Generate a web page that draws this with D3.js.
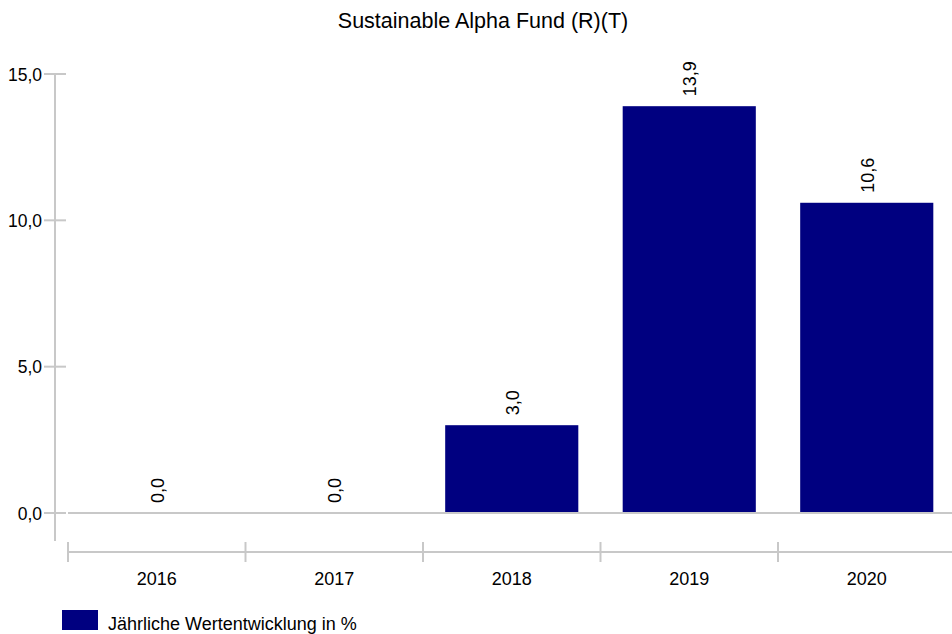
<!DOCTYPE html>
<html>
<head>
    <meta charset="utf-8">
    <title>Sustainable Alpha Fund (R)(T)</title>
    <script src="https://d3js.org/d3.v7.min.js"></script>
    <style>
        body { margin: 0; background: #fff; font-family: "Liberation Sans", Arial, sans-serif; }
    </style>
</head>
<body>
    <div id="chart"></div>
    <script>
        // data
        var years = ["2016", "2017", "2018", "2019", "2020"];
        var values = [0.0, 0.0, 3.0, 13.9, 10.6];
        var yTicks = [0, 5, 10, 15];
        var seriesName = "Jährliche Wertentwicklung in %";
        var title = "Sustainable Alpha Fund (R)(T)";

        var width = 952, height = 634;
        var grey = "#c8c8c8", barColor = "#000080";
        var fmt = function(v) { return d3.format(".1f")(v).replace(".", ","); };

        var svg = d3.select("#chart").append("svg")
            .attr("width", width)
            .attr("height", height);

        var x = d3.scaleBand().domain(years).range([68, 955.5]).paddingInner(0.25).paddingOuter(0.125);
        var y = d3.scaleLinear().domain([0, 15]).range([513, 74]);

        // title
        svg.append("text")
            .attr("x", 483).attr("y", 28)
            .attr("text-anchor", "middle")
            .style("font-size", "21.5px")
            .text(title);

        // y axis
        svg.append("line")
            .attr("x1", 55).attr("x2", 55)
            .attr("y1", 74).attr("y2", 541)
            .attr("stroke", grey).attr("stroke-width", 2);
        svg.selectAll(".ytick").data(yTicks).enter().append("line")
            .attr("x1", 44).attr("x2", 66)
            .attr("y1", function(d) { return y(d); })
            .attr("y2", function(d) { return y(d); })
            .attr("stroke", grey).attr("stroke-width", 2);
        svg.selectAll(".ylab").data(yTicks).enter().append("text")
            .attr("x", 42)
            .attr("y", function(d) { return y(d) + 6.5; })
            .attr("text-anchor", "end")
            .style("font-size", "17.5px")
            .text(fmt);

        // bars
        svg.selectAll(".bar").data(values).enter().append("rect")
            .attr("x", function(d, i) { return x(years[i]); })
            .attr("width", x.bandwidth())
            .attr("y", function(d) { return y(d); })
            .attr("height", function(d) { return y(0) - y(d); })
            .attr("fill", barColor);

        // zero line
        svg.append("line")
            .attr("x1", 68).attr("x2", width)
            .attr("y1", y(0)).attr("y2", y(0))
            .attr("stroke", grey).attr("stroke-width", 2);

        // value labels, rotated
        svg.selectAll(".vlab").data(values).enter().append("text")
            .attr("transform", function(d, i) {
                var cx = x(years[i]) + x.bandwidth() / 2 + 7;
                return "translate(" + cx + "," + (y(d) - 10) + ") rotate(-90)";
            })
            .style("font-size", "18px")
            .text(fmt);

        // x axis
        var xAxisY = 552;
        var step = x.step();
        var x0 = 68;
        svg.append("line")
            .attr("x1", x0).attr("x2", width)
            .attr("y1", xAxisY).attr("y2", xAxisY)
            .attr("stroke", grey).attr("stroke-width", 2);
        svg.selectAll(".xtick").data(years).enter().append("line")
            .attr("x1", function(d, i) { return x0 + i * step; })
            .attr("x2", function(d, i) { return x0 + i * step; })
            .attr("y1", xAxisY - 10).attr("y2", xAxisY + 10)
            .attr("stroke", grey).attr("stroke-width", 2);
        svg.selectAll(".xlab").data(years).enter().append("text")
            .attr("x", function(d) { return x(d) + x.bandwidth() / 2; })
            .attr("y", 585)
            .attr("text-anchor", "middle")
            .style("font-size", "18px")
            .text(function(d) { return d; });

        // legend
        svg.append("rect")
            .attr("x", 62).attr("y", 610)
            .attr("width", 36).attr("height", 20)
            .attr("fill", barColor);
        svg.append("text")
            .attr("x", 108).attr("y", 630)
            .style("font-size", "18px")
            .text(seriesName);
    </script>
</body>
</html>
